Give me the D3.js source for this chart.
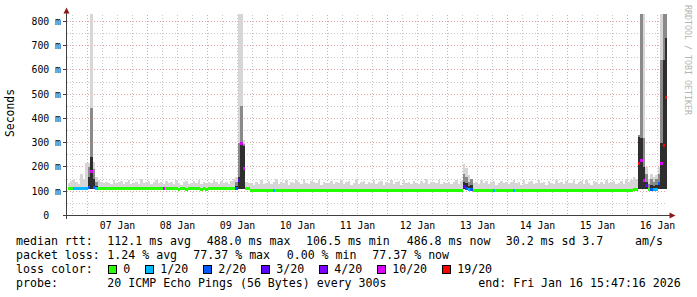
<!DOCTYPE html>
<html>
<head>
<meta charset="utf-8">
<script src="https://cdn.jsdelivr.net/npm/d3@7"></script>
<style>
  body { margin: 0; background: #fff; }
  svg { display: block; }
  text { font-family: "DejaVu Sans Mono", monospace; fill: #000; white-space: pre; }
</style>
</head>
<body>
<svg id="chart" width="697" height="297"></svg>
<script>
// window of the graph (10 days)
const start = new Date(Date.UTC(2026, 0, 6, 15, 47, 16));
const end = new Date(Date.UTC(2026, 0, 16, 15, 47, 16));
const firstHour = new Date(Date.UTC(2026, 0, 6, 16));

// hourly median rtt (ms), one row per day
const median = [
  111,111,112,111,112,111,112,113,
  115,180,115,112,111,111,110,111,111,110,111,111,111,110,111,111,111,110,111,111,110,111,111,111,
  111,111,110,111,111,111,110,111,110,110,111,111,108,111,111,108,110,111,110,111,111,108,111,108,
  111,111,111,111,111,111,111,111,111,111,111,112,145,295,195,111,111,105,105,105,104,105,105,105,
  105,105,104,105,105,105,105,104,105,105,105,105,105,104,105,105,105,105,105,104,105,105,105,105,
  105,105,105,104,105,105,105,105,105,105,104,105,105,105,105,105,104,105,105,105,105,105,105,104,
  105,105,105,105,104,105,105,105,105,104,105,105,105,105,105,105,105,104,105,105,105,104,105,105,
  105,105,105,105,105,105,118,110,106,106,105,105,105,105,105,105,105,105,105,104,105,105,105,105,
  105,105,105,105,104,105,105,105,105,105,105,105,104,105,105,105,105,105,105,105,105,104,105,105,
  105,105,105,104,105,105,105,105,105,105,105,104,105,105,105,105,105,105,105,105,104,105,105,105,
  105,105,106,108,214,227,144,125,107,106,107,106,132,214,289,488
];

// hourly max ping (ms) = top of the smoke
const maxPing = [
  135,142,150,138,131,170,150,215,
  215,830,220,160,145,138,132,140,136,128,145,133,139,142,130,137,146,131,135,140,128,150,134,139,
  141,130,137,145,132,138,129,143,136,140,131,148,134,127,139,144,130,136,142,133,147,129,138,135,
  140,132,146,137,130,143,135,139,128,144,150,160,830,830,310,140,136,132,127,138,131,145,129,136,
  142,128,137,150,131,139,134,145,126,140,133,148,137,130,152,135,129,141,138,132,146,127,139,134,
  136,144,129,140,133,147,131,138,142,127,135,149,130,137,143,128,140,134,146,131,137,141,126,139,
  133,145,130,138,141,127,148,134,139,131,144,136,129,142,135,150,128,137,140,133,146,130,138,135,
  140,131,137,145,129,142,214,195,165,150,133,139,128,146,135,141,130,138,144,127,136,143,132,139,
  129,137,148,133,140,126,145,131,138,143,128,136,147,132,139,127,142,135,130,146,134,138,129,141,
  136,132,145,128,139,141,130,147,134,127,143,138,131,140,129,146,133,137,142,128,135,144,131,150,
  138,145,160,150,330,830,830,200,150,170,160,165,200,830,830,830
];

// hourly lost packets out of 20
const lossCount = [
  0,0,1,1,1,1,1,1,
  2,10,2,1,0,0,0,0,0,0,0,0,0,0,0,0,0,0,0,0,0,0,0,0,
  0,0,0,0,0,0,10,0,0,0,0,0,0,0,0,0,0,0,0,0,0,0,0,0,
  0,0,0,0,0,0,0,0,0,0,0,2,3,10,10,0,0,0,0,0,0,0,0,0,
  0,0,1,0,0,0,0,0,0,0,0,0,0,0,0,0,0,0,0,0,0,0,0,0,
  0,0,0,0,0,0,0,0,0,0,0,0,0,0,0,0,0,0,0,0,0,0,0,0,
  0,0,0,0,0,0,0,0,0,0,0,0,0,0,0,0,0,0,0,0,0,0,0,0,
  0,0,0,0,0,0,3,2,1,2,0,0,0,0,0,0,0,0,1,0,0,0,0,0,
  0,0,1,0,0,0,0,0,0,0,0,0,0,0,0,0,0,0,0,0,0,0,0,0,
  0,0,0,0,0,0,0,0,0,0,0,0,0,0,0,0,0,0,0,0,0,0,0,0,
  0,0,0,0,19,10,10,3,0,2,1,1,2,10,19,19
];

// denser smoke around the spikes (hour index, mid layer top, dark layer top, ms)
const coreIdx  = [8, 9, 10, 11, 67, 68, 69, 70, 158, 159, 160, 161, 228, 229, 230, 231, 232, 233, 234, 235, 236, 237, 238, 239];
const coreMid  = [200, 445, 190, 140, 140, 300, 450, 295, 170, 160, 140, 150, 330, 830, 320, 170, 130, 150, 140, 150, 170, 640, 830, 830];
const coreDark = [160, 240, 150, 120, 120, 160, 300, 285, 140, 135, 120, 125, 323, 320, 200, 140, 115, 125, 120, 125, 140, 300, 640, 730];

const yMajor = [0, 100, 200, 300, 400, 500, 600, 700, 800];
const yMinor = [50, 150, 250, 350, 450, 550, 650, 750];

const lossSteps = [0, 1, 2, 3, 4, 10, 19];
const lossNames = ["0", "1/20", "2/20", "3/20", "4/20", "10/20", "19/20"];
const lossColors = ["#26ff00", "#00b8ff", "#0059ff", "#5e00ff", "#7e00ff", "#dd00ff", "#ff0000"];

const rttRow = ["median rtt:", "112.1 ms avg", "488.0 ms max", "106.5 ms min", "486.8 ms now", "30.2 ms sd", "3.7", "am/s"];
const lossRow = ["packet loss:", "1.24 % avg", "77.37 % max", "0.00 % min", "77.37 % now"];
const probeRow = ["probe:", "20 ICMP Echo Pings (56 Bytes) every 300s", "end: Fri Jan 16 15:47:16 2026"];

const svg = d3.select("#chart");
const x = d3.scaleUtc().domain([start, end]).range([67, 667]);
const y = d3.scaleLinear().domain([0, 824.7]).range([215.5, 15.5]);
const px = v => Math.floor(v) + 0.5;

const lossColor = n => {
  let c = lossColors[0];
  lossSteps.forEach((s, k) => { if (n >= s) c = lossColors[k]; });
  return c;
};
const hourAt = i => new Date(firstHour.getTime() + i * 36e5);

svg.append("rect").attr("width", 697).attr("height", 297).attr("fill", "#fff");

svg.append("defs").append("clipPath").attr("id", "plot")
  .append("rect").attr("x", 67).attr("y", 14).attr("width", 600).attr("height", 202);

// grid
const grid = svg.append("g").attr("shape-rendering", "crispEdges");
const sixHours = d3.utcHour.every(6).range(start, end).filter(d => d.getUTCHours() !== 0);
const midnights = d3.utcDay.range(start, end);

grid.selectAll(".vmin").data(sixHours).join("line")
  .attr("x1", d => px(x(d))).attr("x2", d => px(x(d)))
  .attr("y1", 15).attr("y2", 215)
  .attr("stroke", "#c8c8c8").attr("stroke-dasharray", "1,2");
grid.selectAll(".hmin").data(yMinor).join("line")
  .attr("y1", d => px(y(d))).attr("y2", d => px(y(d)))
  .attr("x1", 67).attr("x2", 667)
  .attr("stroke", "#c8c8c8").attr("stroke-dasharray", "1,2");
grid.selectAll(".vmaj").data(midnights).join("line")
  .attr("x1", d => px(x(d))).attr("x2", d => px(x(d)))
  .attr("y1", 15).attr("y2", 215)
  .attr("stroke", "#eba0a0").attr("stroke-dasharray", "1,2");
grid.selectAll(".hmaj").data(yMajor.slice(1)).join("line")
  .attr("y1", d => px(y(d))).attr("y2", d => px(y(d)))
  .attr("x1", 67).attr("x2", 667)
  .attr("stroke", "#eba0a0").attr("stroke-dasharray", "1,2");

// smoke and median
const plot = svg.append("g").attr("clip-path", "url(#plot)").attr("shape-rendering", "crispEdges");
const idx = d3.range(median.length);
const floorMs = i => Math.min(median[i], 108);
const barX = i => Math.round(x(hourAt(i)));
const barW = i => Math.round(x(hourAt(i + 1))) - Math.round(x(hourAt(i)));

plot.selectAll(".smoke").data(idx).join("rect")
  .attr("x", barX).attr("width", barW)
  .attr("y", i => Math.round(y(maxPing[i])))
  .attr("height", i => Math.max(0, Math.round(y(floorMs(i))) - Math.round(y(maxPing[i]))))
  .attr("fill", "#d6d6d6");

plot.selectAll(".mid").data(coreIdx).join("rect")
  .attr("x", barX).attr("width", barW)
  .attr("y", (d, k) => Math.round(y(coreMid[k])))
  .attr("height", (d, k) => Math.round(y(floorMs(d))) - Math.round(y(coreMid[k])))
  .attr("fill", "#8a8a8a");

plot.selectAll(".dark").data(coreIdx).join("rect")
  .attr("x", barX).attr("width", barW)
  .attr("y", (d, k) => Math.round(y(coreDark[k])))
  .attr("height", (d, k) => Math.round(y(floorMs(d))) - Math.round(y(coreDark[k])))
  .attr("fill", "#2e2e2e");

plot.selectAll(".med").data(idx).join("rect")
  .attr("x", barX).attr("width", barW)
  .attr("y", i => Math.round(y(median[i]) - 1.5))
  .attr("height", 3)
  .attr("fill", i => lossColor(lossCount[i]));

// axes
const axis = svg.append("g").attr("shape-rendering", "crispEdges");
axis.append("line").attr("x1", 66.5).attr("x2", 66.5).attr("y1", 219).attr("y2", 12)
  .attr("stroke", "#404040");
axis.append("line").attr("x1", 63).attr("x2", 670).attr("y1", 215.5).attr("y2", 215.5)
  .attr("stroke", "#404040");
axis.selectAll(".ytick").data(yMajor).join("line")
  .attr("x1", 63).attr("x2", 66).attr("y1", d => px(y(d))).attr("y2", d => px(y(d)))
  .attr("stroke", "#404040");
svg.append("path").attr("d", "M63.5,13.5L66.5,7.5L69.5,13.5Z").attr("fill", "#8b1a1a");
svg.append("path").attr("d", "M669.5,212.5L675.5,215.5L669.5,218.5Z").attr("fill", "#8b1a1a");

// y labels
svg.selectAll(".ylab").data(yMajor).join("text")
  .attr("x", 61).attr("y", d => px(y(d)))
  .attr("text-anchor", "end").attr("dominant-baseline", "central")
  .style("font-size", "9.8px")
  .text(d => d === 0 ? "0  " : d + " m");

// x labels at noon
svg.selectAll(".xlab").data(midnights).join("text")
  .attr("x", d => x(d3.utcHour.offset(d, 12)))
  .attr("y", 229)
  .attr("text-anchor", "middle")
  .style("font-size", "9.8px")
  .text(d3.utcFormat("%d %b"));

svg.append("text")
  .attr("transform", "translate(14,113) rotate(-90)")
  .attr("text-anchor", "middle")
  .style("font-size", "11.4px")
  .text("Seconds");

svg.append("text")
  .attr("transform", "translate(684.5,5) rotate(90)")
  .style("font-size", "8.3px").style("fill", "#b4b4b4")
  .text("RRDTOOL / TOBI OETIKER");

// legend
const legend = svg.append("g").style("font-size", "11.6px");
const rttX = [16, 107.3, 206.7, 306, 406.7, 505.7, 582.3, 635];
const lossX = [16, 107.3, 193.3, 286.7, 372.3];
const probeX = [16, 107.3, 478.3];
legend.selectAll(".r1").data(rttRow).join("text")
  .attr("x", (d, k) => rttX[k]).attr("y", 245).text(d => d);
legend.selectAll(".r2").data(lossRow).join("text")
  .attr("x", (d, k) => lossX[k]).attr("y", 259).text(d => d);
legend.append("text").attr("x", 16).attr("y", 273).text("loss color:");
const boxX = [108.5, 145.5, 203.5, 261.5, 319.5, 377.5, 442.5];
const sw = legend.selectAll(".sw").data(lossNames).join("g");
sw.append("rect")
  .attr("x", (d, k) => boxX[k]).attr("y", 265.5).attr("width", 8).attr("height", 8)
  .attr("fill", (d, k) => lossColors[k]).attr("stroke", "#000").attr("shape-rendering", "crispEdges");
sw.append("text")
  .attr("x", (d, k) => boxX[k] + 14.7).attr("y", 273).text(d => d);
legend.selectAll(".r4").data(probeRow).join("text")
  .attr("x", (d, k) => probeX[k]).attr("y", 287).text(d => d);
</script>
</body>
</html>
